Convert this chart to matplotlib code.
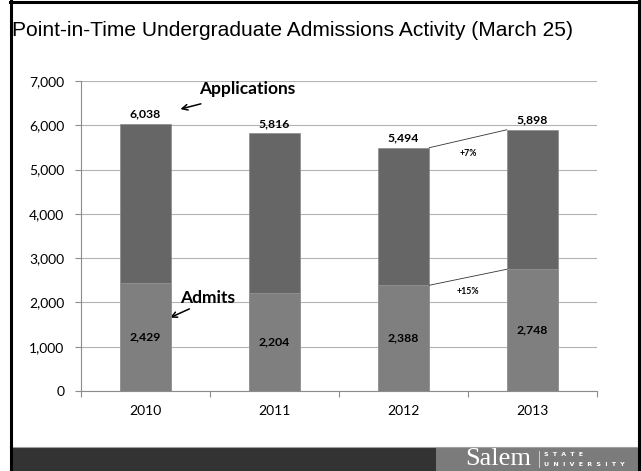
import numpy as np
import matplotlib.pyplot as plt
from matplotlib.patches import Rectangle
from matplotlib.lines import Line2D

years = ["2010", "2011", "2012", "2013"]
applications = [6038, 5816, 5494, 5898]
admits = [2429, 2204, 2388, 2748]
app_change = "+7%"
admit_change = "+15%"

W, H = 641, 471
fig = plt.figure(figsize=(W / 100, H / 100), dpi=100)
fig.patch.set_facecolor("white")

def fx(px):
    return px / W

def fy(py):
    return 1 - py / H

# plot area in pixels
left, right, top, bottom = 81, 597, 81, 391
ax = fig.add_axes([fx(left), fy(bottom), fx(right - left), (bottom - top) / H])

x = np.arange(len(years))
app_color = "#666666"
adm_color = "#7f7f7f"
ax.bar(x, applications, width=0.4, color=app_color, edgecolor="#8a8a8a", linewidth=0.5, zorder=3)
ax.bar(x, admits, width=0.4, color=adm_color, edgecolor="#999999", linewidth=0.5, zorder=4)

ax.set_xlim(-0.5, 3.5)
ax.set_ylim(0, 7000)
ax.set_yticks(np.arange(0, 7001, 1000))
ax.set_yticklabels([f"{v:,}" for v in range(0, 7001, 1000)], family="Lato", fontsize=10)
ax.set_xticks(x)
ax.set_xticklabels(years, family="Lato", fontsize=10)
ax.set_xticks(np.arange(-0.5, 3.6, 1), minor=True)
ax.tick_params(axis="x", which="major", length=0, pad=10)
ax.tick_params(axis="x", which="minor", length=4, color="#8c8c8c", width=0.8)
ax.tick_params(axis="y", length=4, color="#8c8c8c", width=0.8, pad=8)
ax.grid(axis="y", color="#b3b3b3", linewidth=0.8, zorder=0)
ax.set_axisbelow(True)
for s in ["top", "right"]:
    ax.spines[s].set_visible(False)
for s in ["left", "bottom"]:
    ax.spines[s].set_color("#8c8c8c")
    ax.spines[s].set_linewidth(0.8)

# value labels
for i in range(len(years)):
    ax.annotate(f"{applications[i]:,}", (x[i], applications[i]), xytext=(0, 7),
                textcoords="offset points", ha="center", va="center",
                family="Lato", fontweight="bold", fontsize=8.8, zorder=6)
    ax.text(x[i], admits[i] / 2, f"{admits[i]:,}", ha="center", va="center",
            family="Lato", fontweight="bold", fontsize=8.8, zorder=6)

# connector lines 2012 -> 2013
for vals in (applications, admits):
    ax.plot([x[2] + 0.2, x[3] - 0.2], [vals[2], vals[3]], color="#333333", lw=0.6, zorder=5)
ax.text(2.5, (applications[2] + applications[3]) / 2 - 330, app_change, ha="center", va="center",
        family="Lato", fontweight="bold", fontsize=6.3)
ax.text(2.5, (admits[2] + admits[3]) / 2 - 330, admit_change, ha="center", va="center",
        family="Lato", fontweight="bold", fontsize=6.3)

# series callouts
ax.annotate("", xy=(0.25, 6350), xytext=(0.45, 6500),
            arrowprops=dict(arrowstyle="->", color="black", lw=1.1))
ax.text(0.79, 6810, "Applications", ha="center", va="center",
        family="Lato", fontweight="bold", fontsize=12.5)
ax.annotate("", xy=(0.17, 1630), xytext=(0.36, 1880),
            arrowprops=dict(arrowstyle="->", color="black", lw=1.1))
ax.text(0.48, 2100, "Admits", ha="center", va="center",
        family="Lato", fontweight="bold", fontsize=12.5)

# title
fig.text(fx(12), fy(30), "Point-in-Time Undergraduate Admissions Activity (March 25)",
         ha="left", va="center", family="Liberation Sans", fontsize=15.1)

# footer
fig.patches.append(Rectangle((fx(10), 0), fx(436 - 10), 24 / H, transform=fig.transFigure,
                             facecolor="#333333", edgecolor="none", zorder=1))
fig.patches.append(Rectangle((fx(436), 0), fx(641 - 436), 24 / H, transform=fig.transFigure,
                             facecolor="#7b7b7b", edgecolor="none", zorder=1))
fig.lines.append(Line2D([fx(10), 1], [24 / H, 24 / H], transform=fig.transFigure,
                        color="#a0a0a0", lw=0.8, zorder=2))
fig.text(fx(465), fy(459), "Salem", ha="left", va="center", family="Liberation Serif",
         fontsize=19, color="white", zorder=3)
fig.lines.append(Line2D([fx(539), fx(539)], [fy(451), fy(467)], transform=fig.transFigure,
                        color="#dddddd", lw=0.6, zorder=3))
fig.text(fx(544), fy(454), "S  T  A  T  E", ha="left", va="center", family="DejaVu Sans",
         fontsize=4.5, fontweight="bold", color="white", zorder=3)
fig.text(fx(544), fy(464), "U  N  I  V  E  R  S  I  T  Y", ha="left", va="center",
         family="DejaVu Sans", fontsize=4.5, fontweight="bold", color="white", zorder=3)

# slide border
lw = 2.2
fig.lines.append(Line2D([fx(10.5), fx(10.5)], [0, 1], transform=fig.transFigure, color="black", lw=lw))
fig.lines.append(Line2D([fx(638.5), fx(638.5)], [0, 1], transform=fig.transFigure, color="black", lw=lw))
fig.lines.append(Line2D([fx(10), fx(640)], [fy(1.5), fy(1.5)], transform=fig.transFigure, color="black", lw=lw))

fig.savefig("out.png", dpi=100)
